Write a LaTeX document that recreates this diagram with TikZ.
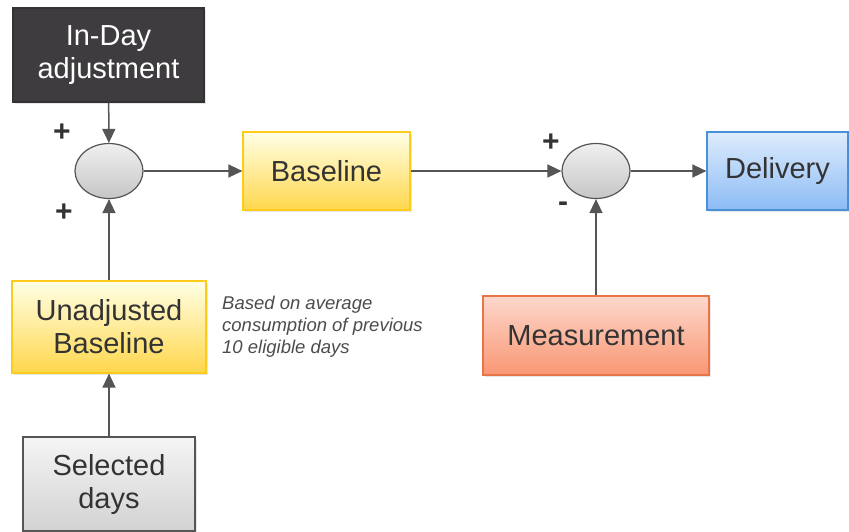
\documentclass[tikz,border=0pt]{standalone}
\usepackage{fontspec}
\setmainfont{Liberation Sans}
\usetikzlibrary{arrows.meta,shapes.geometric,shadows}
\definecolor{txt}{HTML}{333333}
\definecolor{ln}{HTML}{555555}
\begin{document}
\begin{tikzpicture}[x=1pt,y=-1pt,
  box/.style={rectangle,draw,line width=1.2pt,align=center,text=txt,
    font=\fontsize{29}{33}\selectfont,inner sep=0pt,
    drop shadow={opacity=0.2,shadow xshift=1.5pt,shadow yshift=-1.5pt}},
  yellowbox/.style={box,draw=yellow!60!orange!90,top color=yellow!10,bottom color=yellow!55!orange!70!white},
  sumnode/.style={ellipse,draw=ln,line width=1.2pt,minimum width=68pt,minimum height=55pt,
    inner sep=0pt,top color=gray!12,bottom color=gray!45},
  conn/.style={draw=ln,line width=1.5pt,-{Triangle[length=14pt,width=13pt]}},
  sign/.style={font=\fontsize{30}{30}\selectfont\bfseries,text=txt}]
\useasboundingbox (0,0) rectangle (849,531);
\node[box,draw=black!80,fill={rgb,255:red,62;green,60;blue,62},text=white,
  minimum width=191pt,minimum height=94pt] (inday) at (108.5,55) {In-Day\\adjustment};
\node[sumnode] (s1) at (109,171) {};
\node[yellowbox,minimum width=167pt,minimum height=78pt] (base) at (326.5,171) {Baseline};
\node[sumnode] (s2) at (596,171) {};
\node[box,draw={rgb,255:red,74;green,144;blue,217},top color={rgb,255:red,222;green,236;blue,252},
  bottom color={rgb,255:red,140;green,188;blue,245},minimum width=141pt,minimum height=78pt] (deliv) at (777.5,171) {Delivery};
\node[box,draw={rgb,255:red,232;green,116;blue,74},top color={rgb,255:red,253;green,216;blue,204},
  bottom color={rgb,255:red,249;green,150;blue,115},minimum width=226pt,minimum height=79pt] (meas) at (596,335.5) {Measurement};
\node[yellowbox,minimum width=194pt,minimum height=92pt] (unadj) at (109,327) {Unadjusted\\Baseline};
\node[box,draw=ln,top color=gray!8,bottom color=gray!35,minimum width=172pt,minimum height=94pt] (sel) at (109,484) {Selected\\days};
\node[anchor=north west,align=left,text=black!70,inner sep=0pt,
  font=\fontsize{18.5}{22}\selectfont\itshape] (note) at (222,296) {Based on average\\consumption of previous\\10 eligible days};
\node[sign] (p1) at (62,133) {+};
\node[sign] (p2) at (64,213) {+};
\node[sign] (p3) at (551,143) {+};
\node[sign] (m1) at (563,207) {-};
\draw[conn] (inday) -- (s1);
\draw[conn] (unadj) -- (s1);
\draw[conn] (sel) -- (unadj);
\draw[conn] (s1) -- (base);
\draw[conn] (base) -- (s2);
\draw[conn] (s2) -- (deliv);
\draw[conn] (meas) -- (s2);
\end{tikzpicture}
\end{document}
